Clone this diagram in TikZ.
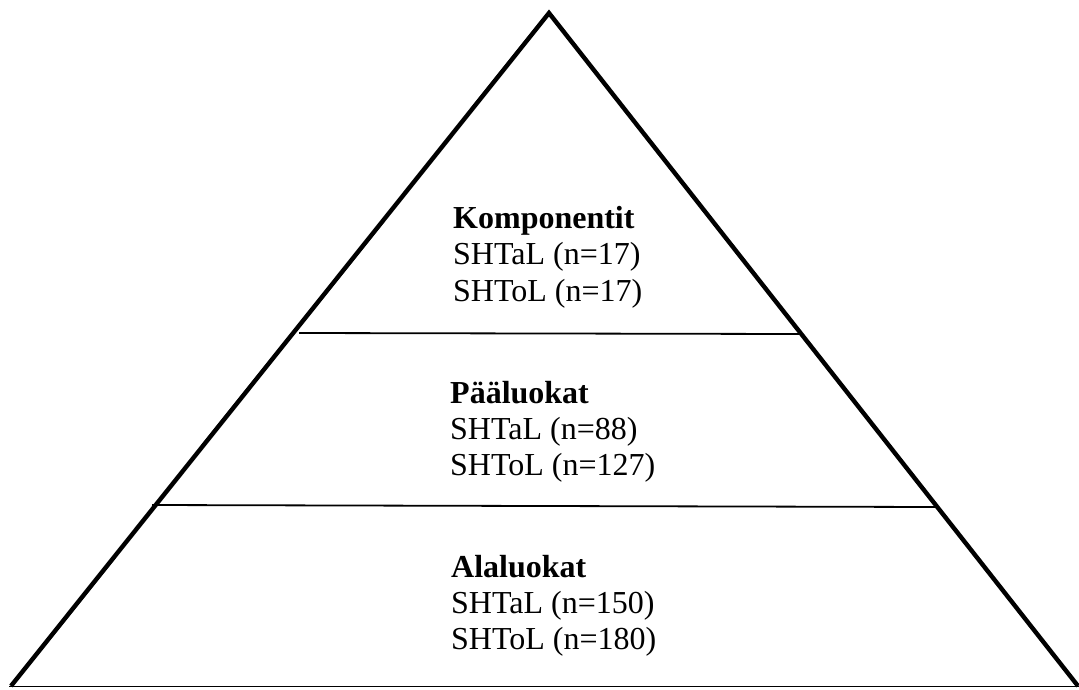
\documentclass[tikz,border=0pt]{standalone}
\usepackage{fontspec}
\setmainfont{Liberation Serif}
\begin{document}
\begin{tikzpicture}[x=1pt,y=-1pt,
  side/.style={line width=4.4pt,line join=miter,line cap=butt},
  thin/.style={line width=1.8pt},
  lbl/.style={anchor=base west,inner sep=0pt,font=\fontsize{32}{36}\selectfont},
  hd/.style={lbl,font=\fontsize{32}{36}\selectfont\bfseries}]
\useasboundingbox (0,0) rectangle (1079,689);
\coordinate (apex) at (549,13);
\coordinate (bl) at (11,686);
\coordinate (br) at (1078,686);
\coordinate (bl0) at (9,686.5);
\coordinate (br0) at (1079,686.5);
\draw[side] (bl) -- (apex) -- (br);
\draw[thin] (bl0) -- (br0);
\coordinate (d1a) at (299,333);
\coordinate (d1b) at (800,334);
\coordinate (d2a) at (152,505);
\coordinate (d2b) at (937,507);
\draw[thin] (d1a) -- (d1b);
\draw[thin] (d2a) -- (d2b);
\node[hd] (k) at (453,228) {Komponentit};
\node[lbl] (k1) at (453,264) {SHTaL (n=17)};
\node[lbl] (k2) at (453,301) {SHToL (n=17)};
\node[hd] (p) at (450,403) {Pääluokat};
\node[lbl] (p1) at (450,439) {SHTaL (n=88)};
\node[lbl] (p2) at (450,475) {SHToL (n=127)};
\node[hd] (a) at (451,577) {Alaluokat};
\node[lbl] (a1) at (451,613) {SHTaL (n=150)};
\node[lbl] (a2) at (451,649) {SHToL (n=180)};
\end{tikzpicture}
\end{document}
